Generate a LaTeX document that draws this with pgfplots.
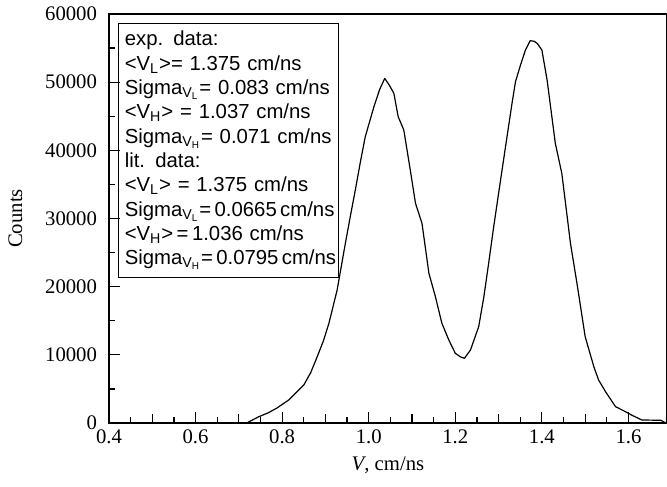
\documentclass[border=0pt]{standalone}
\usepackage{fontspec}
\setmainfont{Liberation Serif}
\newfontfamily\arial{Liberation Sans}
\usepackage{pgfplots}
\pgfplotsset{compat=1.18}
\usepackage{pgfplotstable}

\pgfplotstableread{
V C
0.400 0
0.718 0
0.746 920
0.768 1500
0.788 2200
0.815 3370
0.850 5570
0.866 7400
0.881 9730
0.895 12000
0.908 14620
0.927 19510
0.946 26360
0.958 30500
0.969 34180
0.981 38400
0.992 42000
1.012 46400
1.025 48900
1.037 50560
1.048 49500
1.058 48370
1.068 44940
1.081 42980
1.096 37110
1.108 32230
1.123 29300
1.139 21960
1.154 18530
1.169 14620
1.185 12180
1.200 10220
1.212 9700
1.221 9490
1.235 10710
1.254 14130
1.266 18530
1.277 23430
1.288 28500
1.300 33700
1.316 40540
1.331 46900
1.339 50070
1.351 52600
1.362 54720
1.373 56090
1.382 56000
1.389 55700
1.400 54720
1.412 50320
1.431 41030
1.446 36630
1.466 26360
1.481 20490
1.500 12660
1.520 8260
1.531 6300
1.547 4600
1.570 2400
1.593 1660
1.607 1170
1.631 440
1.675 400
1.686 0
}\datatable

\begin{document}
\begin{tikzpicture}
\useasboundingbox (-54.5bp,-32bp) rectangle (279bp,211.5bp);
\begin{axis}[
  at={(0,0)}, anchor=south west,
  scale only axis,
  width=279bp, height=204.5bp,
  xmin=0.4, xmax=1.689,
  ymin=0, ymax=60000,
  axis line style={line width=0.9bp},
  tick align=inside,
  xtick pos=bottom, ytick pos=left,
  xtick={0.4,0.6,...,1.61},
  extra x ticks={0.5,0.7,0.9,1.1,1.3,1.5},
  extra x tick labels={},
  extra x tick style={major tick length=4.7bp},
  minor x tick num=3,
  ytick={0,10000,...,60000},
  minor y tick num=1,
  major tick length=5.5bp,
  minor tick length=2.8bp,
  every tick/.style={black, line width=0.6bp},
  scaled y ticks=false,
  /pgf/number format/assume math mode=true,
  xticklabel style={/pgf/number format/.cd, fixed, fixed zerofill, precision=1, /tikz/.cd},
  yticklabel style={/pgf/number format/.cd, fixed, 1000 sep={}, /tikz/.cd, xshift=-2.5bp},
  tick label style={font=\fontsize{10.4}{12}\selectfont},
  label style={font=\fontsize{10.4}{12}\selectfont},
  xlabel={\textit{V}, cm/ns},
  ylabel={Counts},
  xlabel style={at={(axis description cs:0.5,-0.103)}, anchor=center},
  ylabel style={at={(axis description cs:-0.168,0.5)}, anchor=center, rotate=0},
]
\addplot[black, line width=0.6bp, line join=round] table[x=V, y=C] {\datatable};
\node[draw, line width=0.6bp, anchor=north west, align=left, inner sep=0pt,
      inner xsep=3bp, inner ysep=3.8bp, text width=104bp,
      font=\arial\fontsize{10.2}{12.2}\selectfont]
  at (axis description cs:0.0165,0.978) {%
\mbox{exp. data:}\\
\mbox{<V\textsubscript{L}>= 1.375 cm/ns}\\
\mbox{Sigma\textsubscript{V\textsubscript{L}}= 0.083 cm/ns}\\
\mbox{<V\textsubscript{H}> = 1.037 cm/ns}\\
\mbox{Sigma\textsubscript{V\textsubscript{H}}= 0.071 cm/ns}\\
\mbox{lit. data:}\\
\mbox{<V\textsubscript{L}> = 1.375 cm/ns}\\
\mbox{Sigma\textsubscript{V\textsubscript{L}}=\,0.0665\,cm/ns}\\
\mbox{<V\textsubscript{H}>\,=\,1.036 cm/ns}\\
\mbox{Sigma\textsubscript{V\textsubscript{H}}=\,0.0795\,cm/ns}};
\end{axis}
\end{tikzpicture}
\end{document}
